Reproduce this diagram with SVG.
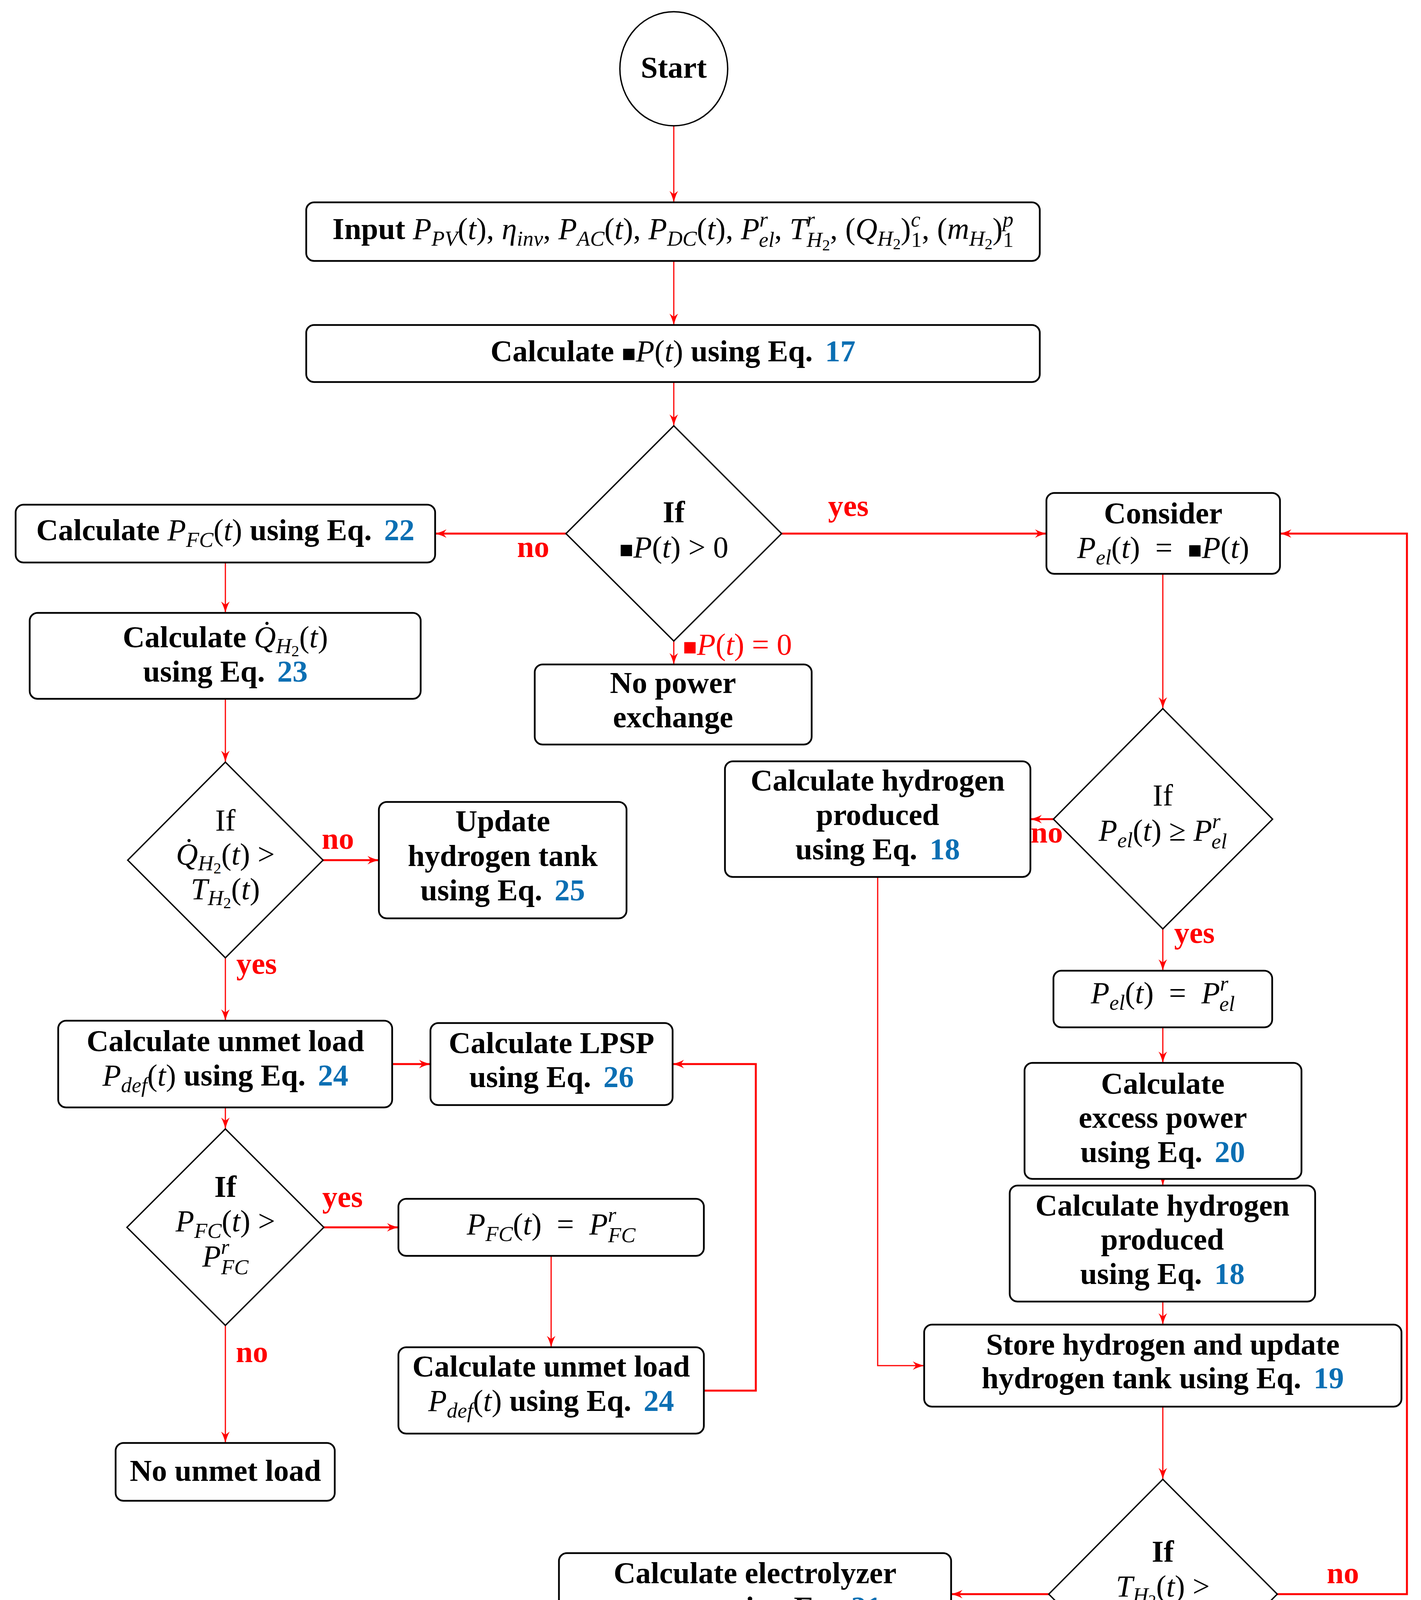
<svg xmlns="http://www.w3.org/2000/svg" width="3638" height="4398" viewBox="0 0 3638 4398">
<style>
text { font-family: 'Liberation Serif', 'Times New Roman', serif; font-size: 78px; text-anchor: middle; fill: #000; }
.b { font-weight: bold; }
.i { font-style: italic; font-weight: normal; }
.u { font-style: normal; font-weight: normal; }
.s { font-size: 55px; }
.ss { font-size: 40px; }
.sq { font-size: 60px; font-style: normal; font-weight: normal; }
.eq { fill: #0B6FB3; font-weight: bold; font-style: normal; }
.lab { fill: #FF0000; font-weight: bold; }
.red { fill: #FF0000; }
.box { fill: #fff; stroke: #000; stroke-width: 4.5; }
.dia { fill: #fff; stroke: #000; stroke-width: 3.5; }
.c { fill: none; stroke: #FF0000; stroke-width: 3; marker-end: url(#ah); }
.ct { fill: none; stroke: #FF0000; stroke-width: 5; marker-end: url(#ah); }
</style>
<defs>
<marker id="ah" viewBox="0 0 30 24" refX="29" refY="12" markerWidth="30" markerHeight="24" markerUnits="userSpaceOnUse" orient="auto"><path d="M0,1 Q12,8 30,12 Q12,16 0,23 L8,12 z" fill="#FF0000"/></marker>
</defs>
<rect width="3638" height="4398" fill="#fff"/>

<g id="connectors">
<path class="c" d="M1725,323 V518"/>
<path class="c" d="M1725,668 V832"/>
<path class="c" d="M1725,978 V1090"/>
<path class="ct" d="M1449,1366 H1114"/>
<path class="ct" d="M2001,1366 H2679"/>
<path class="c" d="M1725,1641 V1701"/>
<path class="c" d="M577,1440 V1569"/>
<path class="c" d="M577,1789 V1951"/>
<path class="ct" d="M827,2202 H970"/>
<path class="c" d="M577,2452 V2613"/>
<path class="ct" d="M1004,2724 H1102"/>
<path class="c" d="M577,2835 V2890"/>
<path class="ct" d="M829,3142 H1020"/>
<path class="c" d="M577,3393 V3694"/>
<path class="c" d="M1411,3215 V3449"/>
<path class="ct" d="M1802,3560 H1935 V2724 H1722"/>
<path class="c" d="M2977,1469 V1814"/>
<path class="ct" d="M2697,2097 H2638"/>
<path class="c" d="M2977,2378 V2485"/>
<path class="c" d="M2977,2630 V2721"/>
<path class="c" d="M2977,3018 V3035"/>
<path class="c" d="M2977,3332 V3391"/>
<path class="c" d="M2247,2245 V3496 H2366"/>
<path class="c" d="M2977,3601 V3787"/>
<path class="ct" d="M2685,4081 H2435"/>
<path class="ct" d="M3270,4081 H3602 V1366 H3277"/>
</g>

<g id="labels">
<text class="lab" x="2172" y="1321">yes</text>
<text class="lab" x="1365" y="1426">no</text>
<text class="u red" x="1748" y="1676" style="text-anchor:start"><tspan class="sq">■</tspan><tspan class="i">P</tspan>(<tspan class="i">t</tspan>) = 0</text>
<text class="lab" x="865" y="2173">no</text>
<text class="lab" x="657" y="2493">yes</text>
<text class="lab" x="877" y="3090">yes</text>
<text class="lab" x="645" y="3487">no</text>
<text class="lab" x="2680" y="2157">no</text>
<text class="lab" x="3058" y="2414">yes</text>
<text class="lab" x="2621" y="4141">yes</text>
<text class="lab" x="3438" y="4053">no</text>
</g>

<g id="start">
<ellipse cx="1725" cy="176" rx="138" ry="146" fill="#fff" stroke="#000" stroke-width="3.5"/>
<text class="b" x="1725" y="199">Start</text>
</g>

<g id="input">
<rect class="box" x="784" y="518" width="1878" height="150" rx="20"/>
<text class="b" x="1723" y="612">Input <tspan class="i">P</tspan><tspan class="i s" dy="17">PV</tspan><tspan class="u" dy="-17">(</tspan><tspan class="i">t</tspan><tspan class="u">), </tspan><tspan class="i">η</tspan><tspan class="i s" dy="17">inv</tspan><tspan class="u" dy="-17">, </tspan><tspan class="i">P</tspan><tspan class="i s" dy="17">AC</tspan><tspan class="u" dy="-17">(</tspan><tspan class="i">t</tspan><tspan class="u">), </tspan><tspan class="i">P</tspan><tspan class="i s" dy="17">DC</tspan><tspan class="u" dy="-17">(</tspan><tspan class="i">t</tspan><tspan class="u">), </tspan><tspan class="i">P</tspan><tspan class="i s" dy="-32">r</tspan><tspan class="i s" dx="-21" dy="52">el</tspan><tspan class="u" dy="-20">, </tspan><tspan class="i">T</tspan><tspan class="i s" dy="-32">r</tspan><tspan class="i s" dx="-21" dy="52">H</tspan><tspan class="u ss" dy="9">2</tspan><tspan class="u" dy="-29">, (</tspan><tspan class="i">Q</tspan><tspan class="i s" dy="17">H</tspan><tspan class="u ss" dy="9">2</tspan><tspan class="u" dy="-26">)</tspan><tspan class="i s" dy="-32">c</tspan><tspan class="u s" dx="-24" dy="52">1</tspan><tspan class="u" dy="-20">, (</tspan><tspan class="i">m</tspan><tspan class="i s" dy="17">H</tspan><tspan class="u ss" dy="9">2</tspan><tspan class="u" dy="-26">)</tspan><tspan class="i s" dy="-32">p</tspan><tspan class="u s" dx="-27" dy="52">1</tspan></text>
</g>

<g id="calc-dp">
<rect class="box" x="784" y="832" width="1878" height="146" rx="20"/>
<text class="b" x="1723" y="925">Calculate <tspan class="sq">■</tspan><tspan class="i">P</tspan><tspan class="u">(</tspan><tspan class="i">t</tspan><tspan class="u">)</tspan> using Eq. <tspan class="eq" dx="12">17</tspan></text>
</g>

<g id="dec-dp">
<polygon class="dia" points="1725,1090 2001,1366 1725,1641 1449,1366"/>
<text class="b" x="1725" y="1337">If</text>
<text class="u" x="1725" y="1427"><tspan class="sq">■</tspan><tspan class="i">P</tspan>(<tspan class="i">t</tspan>) &gt; 0</text>
</g>

<g id="calc-pfc">
<rect class="box" x="40" y="1292" width="1074" height="148" rx="20"/>
<text class="b" x="577" y="1383">Calculate <tspan class="i">P</tspan><tspan class="i s" dy="17">FC</tspan><tspan class="u" dy="-17">(</tspan><tspan class="i">t</tspan><tspan class="u">)</tspan> using Eq. <tspan class="eq" dx="12">22</tspan></text>
</g>

<g id="no-power">
<rect class="box" x="1369" y="1701" width="709" height="205" rx="20"/>
<text class="b" x="1723" y="1774">No power</text>
<text class="b" x="1723" y="1862">exchange</text>
</g>

<g id="calc-q">
<rect class="box" x="76" y="1569" width="1001" height="220" rx="20"/>
<text class="b" x="577" y="1657">Calculate <tspan class="i">Q̇</tspan><tspan class="i s" dy="15">H</tspan><tspan class="u ss" dy="8">2</tspan><tspan class="u" dy="-23">(</tspan><tspan class="i">t</tspan><tspan class="u">)</tspan></text>
<text class="b" x="577" y="1745">using Eq. <tspan class="eq" dx="12">23</tspan></text>
</g>

<g id="dec-q">
<polygon class="dia" points="577,1951 827,2202 577,2452 327,2202"/>
<text class="u" x="577" y="2126">If</text>
<text class="u" x="577" y="2213"><tspan class="i">Q̇</tspan><tspan class="i s" dy="15">H</tspan><tspan class="u ss" dy="8">2</tspan><tspan dy="-23">(</tspan><tspan class="i">t</tspan>) &gt;</text>
<text class="u" x="577" y="2302"><tspan class="i">T</tspan><tspan class="i s" dy="15">H</tspan><tspan class="u ss" dy="8">2</tspan><tspan dy="-23">(</tspan><tspan class="i">t</tspan>)</text>
</g>

<g id="update-tank">
<rect class="box" x="970" y="2053" width="634" height="298" rx="20"/>
<text class="b" x="1287" y="2128">Update</text>
<text class="b" x="1287" y="2217">hydrogen tank</text>
<text class="b" x="1287" y="2305">using Eq. <tspan class="eq" dx="12">25</tspan></text>
</g>

<g id="unmet1">
<rect class="box" x="149" y="2613" width="855" height="222" rx="20"/>
<text class="b" x="577" y="2691">Calculate unmet load</text>
<text class="b" x="577" y="2779"><tspan class="i">P</tspan><tspan class="i s" dy="17">def</tspan><tspan class="u" dy="-17">(</tspan><tspan class="i">t</tspan><tspan class="u">)</tspan> using Eq. <tspan class="eq" dx="12">24</tspan></text>
</g>

<g id="lpsp">
<rect class="box" x="1102" y="2619" width="620" height="210" rx="20"/>
<text class="b" x="1412" y="2696">Calculate LPSP</text>
<text class="b" x="1412" y="2783">using Eq. <tspan class="eq" dx="12">26</tspan></text>
</g>

<g id="dec-pfc">
<polygon class="dia" points="577,2890 829,3142 577,3393 325,3142"/>
<text class="b" x="577" y="3064">If</text>
<text class="u" x="577" y="3152"><tspan class="i">P</tspan><tspan class="i s" dy="17">FC</tspan><tspan dy="-17">(</tspan><tspan class="i">t</tspan>) &gt;</text>
<text class="u" x="577" y="3242"><tspan class="i">P</tspan><tspan class="i s" dy="-32">r</tspan><tspan class="i s" dx="-21" dy="52">FC</tspan></text>
</g>

<g id="pfc-rated">
<rect class="box" x="1020" y="3069" width="782" height="146" rx="20"/>
<text class="u" x="1411" y="3160"><tspan class="i">P</tspan><tspan class="i s" dy="17">FC</tspan><tspan dy="-17">(</tspan><tspan class="i">t</tspan>)&#160; = &#160;<tspan class="i">P</tspan><tspan class="i s" dy="-32">r</tspan><tspan class="i s" dx="-21" dy="52">FC</tspan></text>
</g>

<g id="unmet2">
<rect class="box" x="1020" y="3449" width="782" height="221" rx="20"/>
<text class="b" x="1411" y="3524">Calculate unmet load</text>
<text class="b" x="1411" y="3612"><tspan class="i">P</tspan><tspan class="i s" dy="17">def</tspan><tspan class="u" dy="-17">(</tspan><tspan class="i">t</tspan><tspan class="u">)</tspan> using Eq. <tspan class="eq" dx="12">24</tspan></text>
</g>

<g id="no-unmet">
<rect class="box" x="296" y="3694" width="561" height="148" rx="20"/>
<text class="b" x="577" y="3791">No unmet load</text>
</g>

<g id="consider">
<rect class="box" x="2679" y="1262" width="598" height="207" rx="20"/>
<text class="b" x="2978" y="1340">Consider</text>
<text class="u" x="2978" y="1428"><tspan class="i">P</tspan><tspan class="i s" dy="17">el</tspan><tspan dy="-17">(</tspan><tspan class="i">t</tspan>)&#160; = &#160;<tspan class="sq">■</tspan><tspan class="i">P</tspan>(<tspan class="i">t</tspan>)</text>
</g>

<g id="dec-pel">
<polygon class="dia" points="2977,1814 3258,2097 2977,2378 2697,2097"/>
<text class="u" x="2977" y="2062">If</text>
<text class="u" x="2977" y="2152"><tspan class="i">P</tspan><tspan class="i s" dy="17">el</tspan><tspan dy="-17">(</tspan><tspan class="i">t</tspan>) ≥ <tspan class="i">P</tspan><tspan class="i s" dy="-32">r</tspan><tspan class="i s" dx="-21" dy="52">el</tspan></text>
</g>

<g id="h2-produced-1">
<rect class="box" x="1856" y="1949" width="782" height="296" rx="20"/>
<text class="b" x="2247" y="2024">Calculate hydrogen</text>
<text class="b" x="2247" y="2112">produced</text>
<text class="b" x="2247" y="2200">using Eq. <tspan class="eq" dx="12">18</tspan></text>
</g>

<g id="pel-rated">
<rect class="box" x="2697" y="2485" width="560" height="145" rx="20"/>
<text class="u" x="2977" y="2568"><tspan class="i">P</tspan><tspan class="i s" dy="17">el</tspan><tspan dy="-17">(</tspan><tspan class="i">t</tspan>)&#160; = &#160;<tspan class="i">P</tspan><tspan class="i s" dy="-32">r</tspan><tspan class="i s" dx="-21" dy="52">el</tspan></text>
</g>

<g id="excess">
<rect class="box" x="2623" y="2721" width="709" height="297" rx="20"/>
<text class="b" x="2977" y="2800">Calculate</text>
<text class="b" x="2977" y="2887">excess power</text>
<text class="b" x="2977" y="2975">using Eq. <tspan class="eq" dx="12">20</tspan></text>
</g>

<g id="h2-produced-2">
<rect class="box" x="2585" y="3035" width="782" height="297" rx="20"/>
<text class="b" x="2976" y="3112">Calculate hydrogen</text>
<text class="b" x="2976" y="3199">produced</text>
<text class="b" x="2976" y="3287">using Eq. <tspan class="eq" dx="12">18</tspan></text>
</g>

<g id="store">
<rect class="box" x="2366" y="3391" width="1222" height="210" rx="20"/>
<text class="b" x="2977" y="3468">Store hydrogen and update</text>
<text class="b" x="2977" y="3554">hydrogen tank using Eq. <tspan class="eq" dx="12">19</tspan></text>
</g>

<g id="dec-th2">
<polygon class="dia" points="2977,3787 3270,4081 2977,4375 2685,4081"/>
<text class="b" x="2977" y="3998">If</text>
<text class="u" x="2977" y="4087"><tspan class="i">T</tspan><tspan class="i s" dy="15">H</tspan><tspan class="u ss" dy="8">2</tspan><tspan dy="-23">(</tspan><tspan class="i">t</tspan>) &gt;</text>
<text class="u" x="2977" y="4175"><tspan class="i">T</tspan><tspan class="i s" dy="-32">r</tspan><tspan class="i s" dx="-21" dy="52">H</tspan><tspan class="u ss" dy="8">2</tspan></text>
</g>

<g id="electrolyzer">
<rect class="box" x="1431" y="3976" width="1004" height="211" rx="20"/>
<text class="b" x="1933" y="4053">Calculate electrolyzer</text>
<text class="b" x="1933" y="4141">power using Eq. <tspan class="eq" dx="12">21</tspan></text>
</g>
</svg>
